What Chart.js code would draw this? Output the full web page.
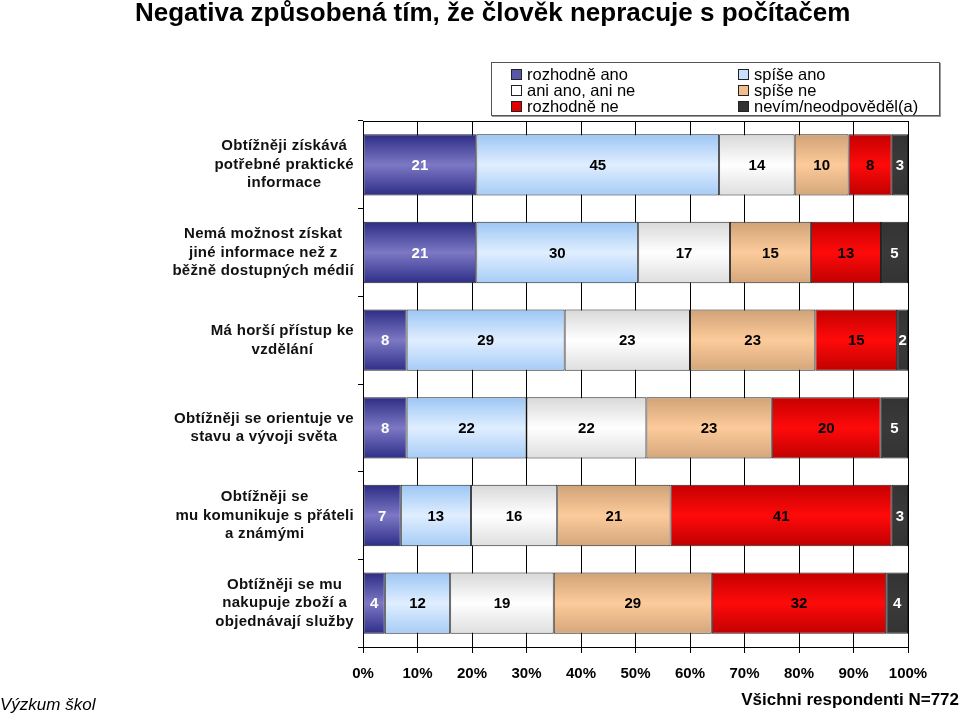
<!DOCTYPE html>
<html>
<head>
<meta charset="utf-8">
<script src="https://cdn.jsdelivr.net/npm/chart.js@4.4.1/dist/chart.umd.min.js"></script>
<style>
  body { margin: 0; background: #fff; }
  #wrap { position: relative; width: 960px; height: 718px; font-family: "Liberation Sans", Arial, sans-serif; }
  #chart { position: absolute; left: 0; top: 0; }
  #title { position: absolute; left: 135px; top: -3px; font-size: 26px; font-weight: bold; color: #000; white-space: nowrap; }
  #legend { position: absolute; left: 491px; top: 62px; width: 447px; height: 52px; border: 1px solid #555; box-shadow: 1px 1px 0 #999; background: #fff; }
  .li { position: absolute; font-size: 16.5px; line-height: 16px; color: #000; white-space: nowrap; }
  .li span { display: inline-block; width: 9px; height: 9px; border: 1px solid #222; margin-right: 5px; vertical-align: 0px; }
  #src { position: absolute; left: 0; top: 695px; font-size: 17px; font-style: italic; color: #000; }
  #resp { position: absolute; right: 1px; top: 690px; font-size: 17px; font-weight: bold; color: #000; }
</style>
</head>
<body>
<div id="wrap">
  <canvas id="chart" width="960" height="718"></canvas>
  <div id="title">Negativa způsobená tím, že člověk nepracuje s počítačem</div>
  <div id="legend"></div>
  <div id="src">Výzkum škol</div>
  <div id="resp">Všichni respondenti N=772</div>
</div>
<script>
// Categories (rows, top to bottom)
const categories = [
    ['Obtížněji získává', 'potřebné praktické', 'informace'],
    ['Nemá možnost získat', 'jiné informace než z', 'běžně dostupných médií'],
    ['Má horší přístup ke', 'vzdělání'],
    ['Obtížněji se orientuje ve', 'stavu a vývoji světa'],
    ['Obtížněji se', 'mu komunikuje s přáteli', 'a známými'],
    ['Obtížněji se mu', 'nakupuje zboží a', 'objednávají služby']
];

// Series names
const seriesNames = ['rozhodně ano', 'spíše ano', 'ani ano, ani ne', 'spíše ne', 'rozhodně ne', 'nevím/neodpověděl(a)'];

// Values in percent, as printed on the bars
const rozhodneAno = [21, 21, 8, 8, 7, 4];
const spiseAno = [45, 30, 29, 22, 13, 12];
const aniAnoAniNe = [14, 17, 23, 22, 16, 19];
const spiseNe = [10, 15, 23, 23, 21, 29];
const rozhodneNe = [8, 13, 15, 20, 41, 32];
const nevim = [3, 5, 2, 5, 3, 4];

const allSeries = [rozhodneAno, spiseAno, aniAnoAniNe, spiseNe, rozhodneNe, nevim];

// Gradient stops (edge, middle, edge) and label colour per series
const fills = [
    ['#2c2c84', '#7c78c4', '#2e2e88'],
    ['#9cc6f4', '#e0eeff', '#a6ccf6'],
    ['#d8d8d8', '#ffffff', '#dedede'],
    ['#cfa277', '#fdcb9b', '#d3a67b'],
    ['#c40000', '#ff0a0a', '#c00000'],
    ['#333333', '#3a3a3a', '#333333']
];
const legendColors = ['#5a57a8', '#c8e0fb', '#ffffff', '#f0bd8e', '#e00000', '#333333'];
const labelColors = ['#fff', '#000', '#000', '#000', '#000', '#fff'];

// 100% stacked: each row is scaled to its total
const rowTotals = categories.map((c, i) => allSeries.reduce((s, arr) => s + arr[i], 0));

const BAR_PCT = 0.7;

function barGradient(stops) {
    return function(ctx) {
        const chart = ctx.chart;
        const ys = chart.scales.y;
        if (ctx.type !== 'data' || !chart.chartArea || !ys) return stops[1];
        const c = ys.getPixelForValue(ctx.dataIndex);
        const h = ys.height / categories.length * BAR_PCT;
        const g = chart.ctx.createLinearGradient(0, c - h / 2, 0, c + h / 2);
        g.addColorStop(0, stops[0]);
        g.addColorStop(0.5, stops[1]);
        g.addColorStop(1, stops[2]);
        return g;
    };
}

// Draw the numbers inside the segments, the row labels and the top border
const extras = {
    id: 'extras',
    afterDatasetsDraw(chart) {
        const ctx = chart.ctx;
        ctx.save();
        ctx.font = 'bold 15px "Liberation Sans", Arial, sans-serif';
        ctx.textAlign = 'center';
        ctx.textBaseline = 'middle';
        chart.data.datasets.forEach((ds, di) => {
            const meta = chart.getDatasetMeta(di);
            meta.data.forEach((bar, i) => {
                ctx.fillStyle = labelColors[di];
                ctx.fillText(String(allSeries[di][i]), (bar.base + bar.x) / 2, bar.y + 1);
            });
        });
        ctx.restore();
    },
    afterDraw(chart) {
        const ctx = chart.ctx;
        const area = chart.chartArea;
        const ys = chart.scales.y;
        ctx.save();
        ctx.strokeStyle = '#000';
        ctx.lineWidth = 1;
        ctx.beginPath();
        ctx.moveTo(area.left, area.top + 0.5);
        ctx.lineTo(area.right, area.top + 0.5);
        ctx.stroke();

        ctx.font = 'bold 15px "Liberation Sans", Arial, sans-serif';
        ctx.letterSpacing = '0.3px';
        ctx.fillStyle = '#111';
        ctx.textAlign = 'center';
        ctx.textBaseline = 'middle';
        const lineH = 18.5;
        const right = area.left - 9;
        categories.forEach((lines, i) => {
            const yc = ys.getPixelForValue(i);
            const w = Math.max(...lines.map(l => ctx.measureText(l).width));
            const cx = right - w / 2;
            lines.forEach((l, k) => {
                ctx.fillText(l, cx, yc + (k - (lines.length - 1) / 2) * lineH);
            });
        });
        ctx.restore();
    }
};

const datasets = allSeries.map((values, di) => ({
    label: seriesNames[di],
    data: values.map((v, i) => v * 100 / rowTotals[i]),
    backgroundColor: barGradient(fills[di]),
    borderColor: '#222',
    borderWidth: 1,
    borderSkipped: false,
    barPercentage: BAR_PCT,
    categoryPercentage: 1
}));

new Chart(document.getElementById('chart').getContext('2d'), {
    type: 'bar',
    data: {
        labels: categories.map(c => c.join(' ')),
        datasets: datasets
    },
    options: {
        indexAxis: 'y',
        responsive: false,
        animation: false,
        layout: { padding: { left: 0, top: 121, right: 52, bottom: 31 } },
        plugins: {
            legend: { display: false },
            tooltip: { enabled: false }
        },
        scales: {
            x: {
                stacked: true,
                min: 0,
                max: 100,
                ticks: {
                    stepSize: 10,
                    padding: 12,
                    color: '#000',
                    font: { family: '"Liberation Sans", Arial, sans-serif', size: 15, weight: 'bold' },
                    callback: v => v + '%'
                },
                grid: { color: '#000', lineWidth: 1, tickLength: 6 },
                border: { display: true, color: '#000' },
                afterFit(scale) { scale.height = 40; }
            },
            y: {
                stacked: true,
                ticks: { display: false },
                grid: { drawOnChartArea: false, drawTicks: true, tickLength: 5, offset: true, color: '#000' },
                border: { display: true, color: '#000' },
                afterFit(scale) { scale.width = 363; }
            }
        }
    },
    plugins: [extras]
});

// HTML legend, two columns
const legend = document.getElementById('legend');
seriesNames.forEach((name, i) => {
    const el = document.createElement('div');
    el.className = 'li';
    const col = i % 2;
    const row = Math.floor(i / 2);
    el.style.left = (col === 0 ? 19 : 246) + 'px';
    el.style.top = (3 + row * 16) + 'px';
    el.innerHTML = '<span style="background:' + legendColors[i] + '"></span>' + name;
    legend.appendChild(el);
});
</script>
</body>
</html>
